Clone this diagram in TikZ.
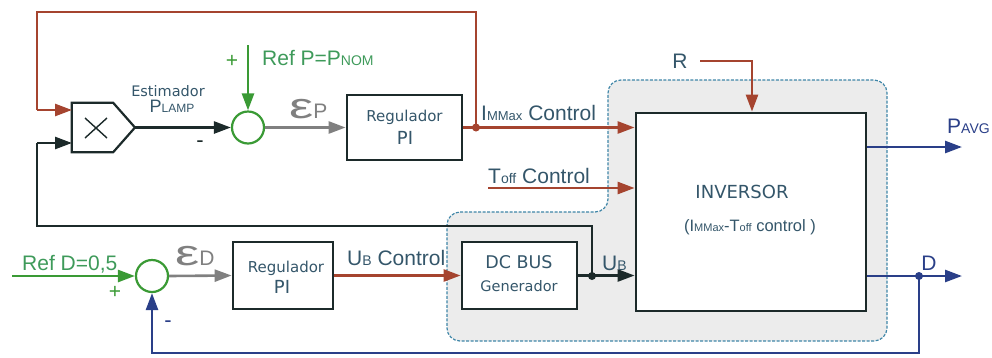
\documentclass[tikz,border=0pt]{standalone}
\usepackage{fontspec}
\setmainfont{Liberation Sans}
\newfontfamily\dvfont{DejaVu Sans}
\usetikzlibrary{arrows.meta}
\definecolor{brn}{HTML}{A5442F}
\definecolor{grn}{HTML}{3A9A35}
\definecolor{grntxt}{HTML}{3E9A5A}
\definecolor{gry}{HTML}{808080}
\definecolor{blu}{HTML}{2A3F88}
\definecolor{boxc}{HTML}{1C2A2A}
\definecolor{txt}{HTML}{34566A}
\definecolor{dash}{HTML}{3F86A8}
\definecolor{bgfill}{HTML}{ECECEC}
\newcommand\smt[2][12]{{\fontsize{#1}{#1}\selectfont #2}}
\newcommand\fs[1]{\fontsize{#1}{#1}\selectfont}
\newcommand\epsw{\scalebox{1.6}[1.05]{ε}}
\begin{document}
\begin{tikzpicture}[x=1pt,y=-1pt,
  blk/.style={draw=boxc, line width=2.8pt, fill=white, inner sep=0pt},
  sumc/.style={circle, draw=grn, line width=2.2pt, fill=white, minimum size=32pt, inner sep=0pt},
  ln/.style={line width=2.6pt},
  arr/.style={ln, -{Triangle[length=17pt,width=12pt]}},
  lbl/.style={inner sep=0pt, text=txt},
  dotc/.style={circle, inner sep=0pt, minimum size=8pt}
]
\useasboundingbox (0,0) rectangle (992,357);

% background region
\fill[bgfill, draw=dash, dashed, line width=1.2pt, dash pattern=on 3pt off 1.5pt, rounded corners=13pt]
  (447,212) -- (608,212) -- (608,80) -- (887,80) -- (887,341) -- (447,341) -- cycle;

% blocks
\node[blk, minimum width=115pt, minimum height=65pt] (reg1) at (404.5,127.5) {};
\node[blk, minimum width=100pt, minimum height=67pt] (reg2) at (283,275.5) {};
\node[blk, minimum width=115pt, minimum height=67pt] (dcbus) at (519.5,275.5) {};
\node[blk, minimum width=230pt, minimum height=198pt] (inv) at (751,212) {};
\node[sumc] (sumP) at (248,127.5) {};
\node[sumc] (sumD) at (152,276) {};

% multiplier
\node[inner sep=0pt, minimum width=41pt, minimum height=49pt] (mul) at (92.5,127.5) {};
\coordinate (mulout) at (135,127.5);
\coordinate (mulA) at (72,110);
\coordinate (mulB) at (72,143);
\draw[boxc, line width=2.2pt, fill=white] (mul.north west) -- (mul.north east) -- (mulout) -- (mul.south east) -- (mul.south west) -- cycle;
\draw[boxc, line width=1.4pt] (85,118) -- (107,138) (85,138) -- (107,118);

% coordinates
\coordinate (j1) at (476,127.5);
\coordinate (jU) at (592,276);
\coordinate (jD) at (919,276);
\coordinate (refPs) at (248,45);
\coordinate (refDs) at (12,276);
\coordinate (Rs) at (700,61);
\coordinate (Toffs) at (488,188);
\coordinate (pavge) at (962,147);
\coordinate (De) at (962,276);

% connectors
\draw[arr, boxc] (mulout) -- (sumP.west);
\draw[arr, grn] (refPs) -- (sumP.north);
\draw[arr, gry] (sumP.east) -- (reg1.west);
\draw[arr, brn] (reg1.east) -- (inv.west |- reg1.east);
\draw[ln, brn] (j1) -- (j1 |- 0,12) -- (37,12) -- (37,110);
\draw[arr, brn] (37,110) -- (mulA);
\draw[arr, brn] (Rs) -| (inv.north -| 752,0);
\draw[arr, brn] (Toffs) -- (inv.west |- Toffs);
\draw[arr, blu] (inv.east |- pavge) -- (pavge);
\draw[arr, blu] (inv.east |- De) -- (De);
\draw[arr, blu] (jD) -- (jD |- 0,353) -- (sumD |- 0,353) -- (sumD.south);
\draw[arr, grn] (refDs) -- (sumD.west);
\draw[arr, gry] (sumD.east) -- (reg2.west);
\draw[arr, brn] (reg2.east) -- (dcbus.west);
\draw[arr, boxc] (dcbus.east) -- (inv.west |- dcbus.east);
\draw[ln, boxc] (jU) -- (jU |- 0,226) -- (37,226) -- (37,143);
\draw[arr, boxc] (37,143) -- (mulB);

% dots
\node[dotc, fill=brn] (d1) at (j1) {};
\node[dotc, fill=boxc] (d2) at (jU) {};
\node[dotc, fill=blu] (d3) at (jD) {};

% texts
\node[lbl, font=\dvfont\fs{15}] (t1) at (404.5,117) {Regulador};
\node[lbl, font=\dvfont\fs{18}] (t2) at (405,138) {PI};
\node[lbl, font=\dvfont\fs{15}] (t3) at (286,268) {Regulador};
\node[lbl, font=\dvfont\fs{18}] (t4) at (282,287) {PI};
\node[lbl, font=\dvfont\fs{17.5}] (t5) at (519,262) {DC BUS};
\node[lbl, font=\dvfont\fs{14.5}] (t6) at (519,286) {Generador};
\node[lbl, font=\dvfont\fs{18}] (t7) at (742,192) {INVERSOR};
\node[lbl, font=\fs{16.5}] (t8) at (750,227) {(I\smt[11]{MMax}-T\smt[11]{off} control )};
\node[lbl, font=\dvfont\fs{14.5}] (t9) at (168,91) {Estimador};
\node[lbl, font=\fs{18}] (t10) at (172,106) {P\smt[12]{LAMP}};
\node[lbl, font=\fs{21}, anchor=base west] (t11) at (481,120) {I\smt[13]{MMax} Control};
\node[lbl, font=\fs{21}, anchor=base west] (t12) at (488,183) {T\smt[14]{off} Control};
\node[lbl, font=\fs{21}, anchor=base west] (t13) at (347,265) {U\smt[14]{B} Control};
\node[lbl, font=\fs{21}] (t14) at (680,61) {R};
\node[lbl, font=\fs{21}, text=blu, anchor=base west] (t15) at (947,133) {P\smt[14]{AVG}};
\node[lbl, font=\fs{21}, text=blu] (t16) at (929,263) {D};
\node[lbl, font=\fs{21}, anchor=base west] (t17) at (602,270) {U\smt[14]{B}};
\node[lbl, font=\fs{21}, text=grntxt, anchor=base west] (t18) at (262,65) {Ref P=P\smt[14]{NOM}};
\node[lbl, font=\fs{21}, text=grntxt, anchor=base west] (t19) at (22,270) {Ref D=0,5};
\node[lbl, font=\fs{21}, text=grn] (t20) at (232,61) {+};
\node[lbl, font=\fs{21}, text=grn] (t21) at (115,292) {+};
\node[lbl, font=\fs{22}, text=boxc] (t22) at (200,144) {-};
\node[lbl, font=\fs{22}, text=blu] (t23) at (168,324) {-};
\node[lbl, text=gry, anchor=base west] (t24) at (289,118) {\fs{34}\epsw\fs{21}P};
\node[lbl, text=gry, anchor=base west] (t25) at (175,265) {\fs{34}\epsw\fs{21}D};
\end{tikzpicture}
\end{document}
